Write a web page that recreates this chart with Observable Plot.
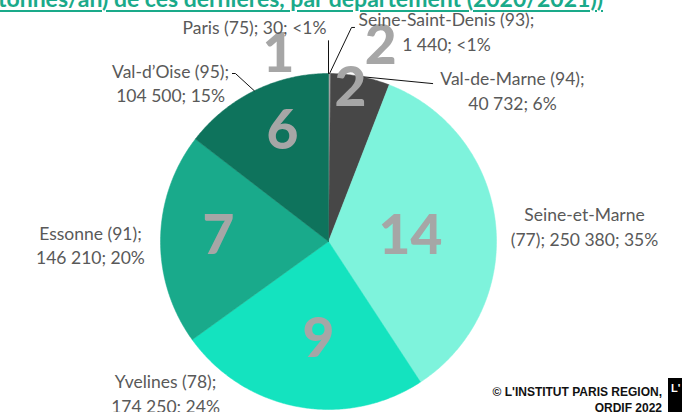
<!DOCTYPE html>
<html>
<head>
<meta charset="utf-8">
<script src="https://cdn.jsdelivr.net/npm/d3@7"></script>
<script src="https://cdn.jsdelivr.net/npm/@observablehq/plot@0.6"></script>
<style>
  html, body { margin: 0; padding: 0; background: #fff; }
  #wrap { position: relative; width: 682px; height: 412px; overflow: hidden; }
  #title { position: absolute; left: -2px; top: -16px; white-space: nowrap; line-height: 1.2;
    font: bold 23px Lato, "Open Sans", sans-serif; color: #1aaa8a;
    text-decoration: underline; text-decoration-thickness: 2px; text-underline-offset: 3px; }
  #caption { position: absolute; right: 20px; top: 384px; text-align: right;
    font-family: "Liberation Sans Narrow", "Arial Narrow", sans-serif; font-weight: bold;
    font-size: 12px; line-height: 16px; color: #111; font-stretch: condensed; }
  #logo { position: absolute; left: 668px; top: 378px; width: 20px; height: 40px; background: #000;
    color: #fff; font: bold 11px "Liberation Sans", sans-serif; padding: 4px 0 0 3px; box-sizing: border-box; }
</style>
</head>
<body>
<div id="wrap">
  <div id="chart"></div>
  <div id="title">tonnes/an) de ces dernières, par département (2020/2021))</div>
  <div id="caption">© L'INSTITUT PARIS REGION,<br>ORDIF 2022</div>
  <div id="logo">L'</div>
</div>
<script>
// ---- data ----
const departments = ["Paris (75)", "Seine-Saint-Denis (93)", "Val-de-Marne (94)", "Seine-et-Marne (77)", "Yvelines (78)", "Essonne (91)", "Val-d’Oise (95)"];
const capacities = [30, 1440, 40732, 250380, 174250, 146210, 104500];
const shares = ["<1%", "<1%", "6%", "35%", "24%", "20%", "15%"];
const capacityLabels = ["30", "1 440", "40 732", "250 380", "174 250", "146 210", "104 500"];
const facilityCounts = [1, 2, 2, 14, 9, 7, 6];

// ---- layout (unit-circle coordinates, styles) ----
const sliceColors = ["#bfbfbf", "#a6a6a6", "#474747", "#7ef3dc", "#14e3bf", "#19aa8b", "#0e735c"];
const labelText = [
  "Paris (75); 30; <1%",
  "Seine-Saint-Denis (93);\n1 440; <1%",
  "Val-de-Marne (94);\n40 732; 6%",
  "Seine-et-Marne\n(77); 250 380; 35%",
  "Yvelines (78);\n174 250; 24%",
  "Essonne (91);\n146 210; 20%",
  "Val-d’Oise (95);\n104 500; 15%"
];
const labelPos = [[-0.012, 1.268], [0.702, 1.256], [1.095, 0.902], [1.524, 0.095], [-0.970, -0.899], [-1.417, -0.015], [-0.940, 0.949]];
const labelAnchor = ["end", "middle", "middle", "middle", "middle", "middle", "middle"];
const countPos = [[-0.298, 1.115], [0.310, 1.163], [0.131, 0.913], [0.488, 0.032], [-0.060, -0.581], [-0.655, 0.032], [-0.274, 0.657]];
// leader lines: extra points after the arc point at slice mid-angle (null = no leader)
const leaderPts = [[[0, 1.195]], [[0.137, 1.274], [0.155, 1.274]], [[0.62, 0.94]], null, null, null, [[-0.554, 1.0], [-0.572, 1.0]]];

const CX = 328, CY = 241, R = 168, W = 682, H = 412;

const arcs = d3.pie().sort(null).startAngle(0).endAngle(2 * Math.PI)(capacities);
const slices = [];
arcs.forEach((a, i) => {
  const n = Math.max(2, Math.ceil((a.endAngle - a.startAngle) / (Math.PI / 360)));
  slices.push({dept: departments[i], x: 0, y: 0});
  for (let k = 0; k <= n; k++) {
    const t = a.startAngle + (a.endAngle - a.startAngle) * k / n;
    slices.push({dept: departments[i], x: Math.sin(t), y: Math.cos(t)});
  }
  slices.push({dept: departments[i], x: 0, y: 0});
});

const leaders = [];
arcs.forEach((a, i) => {
  if (!leaderPts[i]) return;
  const m = (a.startAngle + a.endAngle) / 2;
  leaders.push({dept: departments[i], x: Math.sin(m), y: Math.cos(m)});
  leaderPts[i].forEach(p => leaders.push({dept: departments[i], x: p[0], y: p[1]}));
});

const labels = departments.map((d, i) => ({dept: d, text: labelText[i], x: labelPos[i][0], y: labelPos[i][1], anchor: labelAnchor[i]}));
const counts = departments.map((d, i) => ({dept: d, n: String(facilityCounts[i]), x: countPos[i][0], y: countPos[i][1]}));

const chart = Plot.plot({
  width: W, height: H,
  margin: 0,
  x: {domain: [-CX / R, (W - CX) / R], range: [0, W], axis: null},
  y: {domain: [(CY - H) / R, CY / R], range: [H, 0], axis: null},
  color: {domain: departments, range: sliceColors},
  style: {fontFamily: "Lato, 'Open Sans', sans-serif", background: "white"},
  marks: [
    Plot.line(slices, {x: "x", y: "y", z: "dept", fill: "dept", stroke: "dept", strokeWidth: 0.5, curve: "linear"}),
    Plot.line(leaders, {x: "x", y: "y", z: "dept", stroke: "#111", strokeWidth: 1}),
    Plot.text(counts, {x: "x", y: "y", text: "n", fill: "#a6a6a6", fontSize: 55, fontWeight: 900}),
    Plot.text(labels.filter(d => d.anchor === "end"), {x: "x", y: "y", text: "text", textAnchor: "end", fill: "#595959", fontSize: 17.5}),
    Plot.text(labels.filter(d => d.anchor === "middle"), {x: "x", y: "y", text: "text", textAnchor: "middle", fill: "#595959", fontSize: 17.5, lineHeight: 1.42})
  ]
});
document.getElementById("chart").appendChild(chart);
</script>
</body>
</html>
